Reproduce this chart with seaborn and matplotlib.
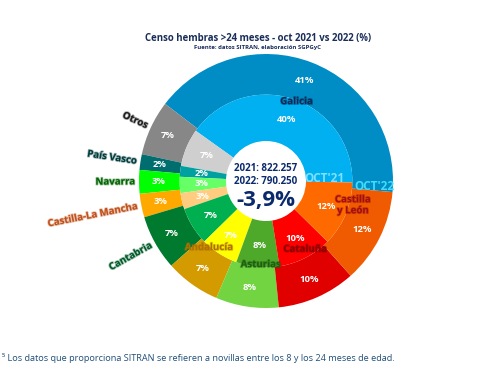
import numpy as np
import matplotlib.pyplot as plt
import matplotlib.patheffects as pe
import seaborn as sns

#******************
#   Data
#******************
regions = ["Galicia", "Otros", "País Vasco", "Navarra", "Castilla-La Mancha",
           "Cantabria", "Andalucía", "Asturias", "Cataluña", "Castilla\ny León"]
pct_2021 = [40, 7, 2, 3, 3, 7, 7, 8, 10, 12]
pct_2022 = [41, 7, 2, 3, 3, 7, 7, 8, 10, 12]
total_2021 = "822.257"
total_2022 = "790.250"
change = "-3,9%"

colors_2021 = ["#00B0F0", "#CFCFCF", "#00A0A0", "#66FF66", "#FFCC80",
               "#00B050", "#FFFF00", "#4EA82A", "#FF0000", "#FF6A00"]
colors_2022 = ["#008CC4", "#878787", "#006E6E", "#00FF00", "#FFA800",
               "#007A2E", "#D39B00", "#72D440", "#E00000", "#F05A00"]
name_colors = ["#0A2A5A", "#1E1E1E", "#003C3C", "#006400", "#C0501A",
               "#005A28", "#B07000", "#1F5F10", "#8B0000", "#A01010"]

#*******************
#   Set asthetics
#*******************
sns.set_theme(style="white")
plt.rcParams["font.family"] = ["Open Sans", "DejaVu Sans"]
navy = "#0B2A6B"

fig = plt.figure(figsize=(4.83, 3.86), dpi=100)
R = 127
cx, cy = 266, 181
ax = fig.add_axes([(cx - R) / 483, (386 - cy - R) / 386, 2 * R / 483, 2 * R / 386])

#*******************
#   Double donut
#*******************
outer, _ = ax.pie(pct_2022, radius=1.0, colors=colors_2022, startangle=-5,
                  wedgeprops=dict(width=0.32, linewidth=0))
inner, _ = ax.pie(pct_2021, radius=0.68, colors=colors_2021, startangle=-1,
                  wedgeprops=dict(width=0.365, linewidth=0))
ax.set_xlim(-1, 1)
ax.set_ylim(-1, 1)
ax.set_aspect("auto")
ax.axis("off")


def polar(r, ang):
    a = np.deg2rad(ang)
    return r * np.cos(a), r * np.sin(a)


# percentage labels
for w, v in zip(outer, pct_2022):
    mid = (w.theta1 + w.theta2) / 2
    x, y = polar(0.85, mid)
    ax.text(x, y, f"{v}%", ha="center", va="center", color="white",
            fontsize=6.8, fontweight="bold")
for w, v in zip(inner, pct_2021):
    mid = (w.theta1 + w.theta2) / 2
    x, y = polar(0.51, mid)
    ax.text(x, y, f"{v}%", ha="center", va="center", color="white",
            fontsize=6.8, fontweight="bold")

# region names (angle shift / radius for the labels sitting on the ring border)
shift = {0: (0, 0.67), 6: (-5, 0.69), 7: (5, 0.66), 8: (6, 0.62), 9: (11, 0.71)}
for i, (w, name) in enumerate(zip(outer, regions)):
    mid = (w.theta1 + w.theta2) / 2
    glow = [pe.withStroke(linewidth=1.2, foreground=name_colors[i], alpha=0.35)]
    if 1 <= i <= 5:
        x, y = polar(1.03, mid)
        ax.text(x, y, name, ha="right", va="center", rotation=mid - 180,
                rotation_mode="anchor", color=name_colors[i], fontsize=7,
                fontweight="bold", path_effects=glow)
    else:
        da, r = shift[i]
        x, y = polar(r, mid + da)
        ax.text(x, y, name, ha="center", va="center", color=name_colors[i],
                fontsize=7, fontweight="bold", linespacing=1.0,
                path_effects=glow)

# ring names
ax.text(0.46, 0.02, "OCT'21", ha="center", va="center", color="#7FE0FF",
        fontsize=8.5, fontweight="bold")
ax.text(0.85, -0.04, "OCT'22", ha="center", va="center", color="#40DDFF",
        fontsize=8.5, fontweight="bold")

# centre
ax.text(0, 0.10, f"2021: {total_2021}", ha="center", va="center", color=navy,
        fontsize=7, fontweight="bold")
ax.text(0, 0.0, f"2022: {total_2022}", ha="center", va="center", color=navy,
        fontsize=7, fontweight="bold")
ax.text(0, -0.15, change, ha="center", va="center", color=navy,
        fontsize=16, fontweight="bold")

#******************
#   Titles
#******************
fig.text(258 / 483, 1 - 38 / 386, "Censo hembras >24 meses - oct 2021 vs 2022 (%)",
         ha="center", va="center", color="#1A2E5A", fontsize=6.9, fontweight="bold")
fig.text(258 / 483, 1 - 48 / 386, "Fuente: datos SITRAN, elaboración SGPGyC",
         ha="center", va="center", color="#1A2E5A", fontsize=4.3, fontweight="bold")
fig.text(2 / 483, 1 - 358 / 386,
         "⁵ Los datos que proporciona SITRAN se refieren a novillas entre los 8 y los 24 meses de edad.",
         ha="left", va="center", color="#1F4E79", fontsize=6.6)

fig.savefig("out.png", dpi=100)
